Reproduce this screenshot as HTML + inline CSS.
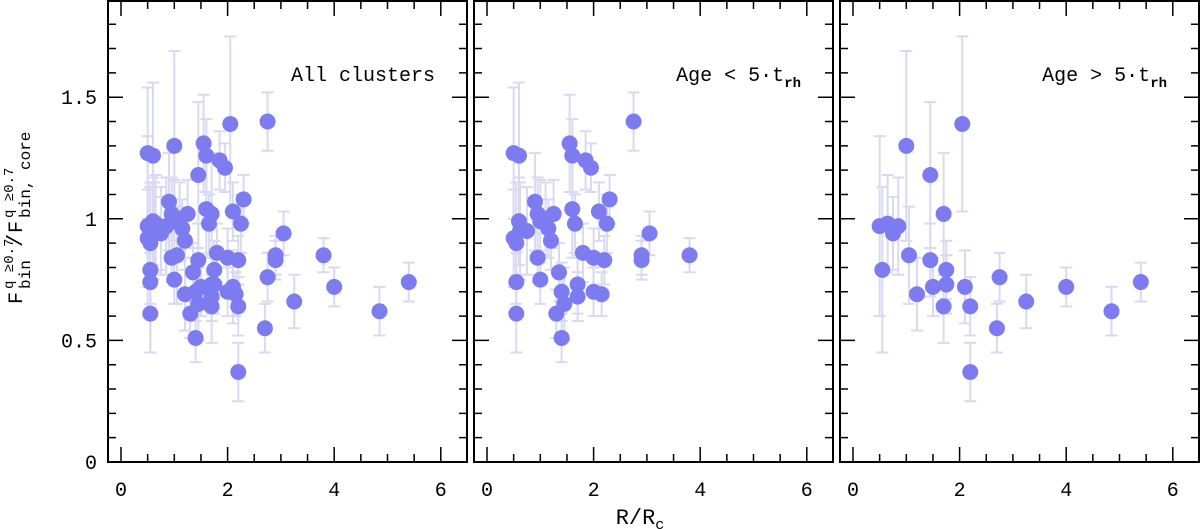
<!DOCTYPE html>
<html><head><meta charset="utf-8"><style>
body{margin:0;background:#fff}
svg{display:block;font-family:"Liberation Mono",monospace}
</style></head><body>
<svg id="c" width="1200" height="529"></svg>
<script>
// Young clusters (Age < 5 t_rh)
const youngX=[0.5,0.6,0.5,0.55,0.6,0.62,0.55,0.55,0.75,0.9,0.95,1.0,1.0,1.1,1.15,1.2,1.25,0.95,1.3,1.35,1.4,1.4,1.45,1.55,1.6,1.6,1.65,1.7,1.7,1.8,1.85,1.95,2.0,2.0,2.1,2.15,2.2,2.25,2.3,2.75,2.9,2.9,3.05,3.8];
const youngY=[1.27,1.26,0.92,0.9,0.99,0.95,0.74,0.61,0.95,1.07,1.02,0.99,0.75,1.0,0.96,0.91,1.02,0.84,0.61,0.78,0.51,0.7,0.65,1.31,1.26,1.04,0.98,0.73,0.68,0.86,1.24,1.21,0.84,0.7,1.03,0.69,0.83,0.98,1.08,1.4,0.85,0.83,0.94,0.85];
const youngE=[0.27,0.3,0.2,0.25,0.18,0.2,0.12,0.16,0.18,0.2,0.15,0.17,0.1,0.15,0.12,0.12,0.14,0.1,0.1,0.12,0.1,0.12,0.15,0.2,0.15,0.2,0.12,0.12,0.1,0.12,0.12,0.1,0.12,0.1,0.12,0.09,0.1,0.12,0.1,0.12,0.08,0.08,0.09,0.07];
// Old clusters (Age > 5 t_rh)
const oldX=[0.5,0.55,0.65,0.75,0.85,1.0,1.05,1.2,1.45,1.45,1.5,1.7,1.7,1.75,1.75,2.05,2.1,2.2,2.2,2.7,2.75,3.25,4.0,4.85,5.4];
const oldY=[0.97,0.79,0.98,0.94,0.97,1.3,0.85,0.69,1.18,0.83,0.72,0.64,1.02,0.79,0.73,1.39,0.72,0.64,0.37,0.55,0.76,0.66,0.72,0.62,0.74];
const oldE=[0.37,0.34,0.2,0.15,0.2,0.39,0.2,0.15,0.3,0.15,0.12,0.15,0.25,0.12,0.12,0.36,0.15,0.12,0.12,0.1,0.1,0.11,0.08,0.1,0.08];
const xTicks=[0,2,4,6];
const yTicks=[0,0.5,1,1.5];
const yTickLabels=["0","0.5","1","1.5"];

const NS="http://www.w3.org/2000/svg";
const svg=document.getElementById('c');
function mk(t,a,p){const e=document.createElementNS(NS,t);for(const k in a)e.setAttribute(k,a[k]);(p||svg).appendChild(e);return e;}
const frameTop=1,bot=462,ppu=243.2;
const ys=v=>bot-v*ppu;
const panels=[{l:108,r:467,sets:[[youngX,youngY,youngE],[oldX,oldY,oldE]]},
{l:474,r:833,sets:[[youngX,youngY,youngE]]},
{l:840,r:1199,sets:[[oldX,oldY,oldE]]}];
panels.forEach((P,pi)=>{
  const g=mk('g',{});
  
  
  const xs=v=>P.l+13+v*53.3;
  P.sets.forEach(s=>{s[0].forEach((x,i)=>{
    const cx=xs(x),y1=ys(s[1][i]-s[2][i]),y2=ys(s[1][i]+s[2][i]);
    const eb=mk('path',{d:`M${cx},${y1}V${y2}M${cx-6},${y1}H${cx+6}M${cx-6},${y2}H${cx+6}`,stroke:'#d9d9f1','stroke-width':2,fill:'none'},g);
    
    
  });});
  P.sets.forEach(s=>{s[0].forEach((x,i)=>{
    const c=mk('circle',{cx:xs(x),cy:ys(s[1][i]),r:8,fill:'#7c7cf0'},g);
    
    
  });});
  const fr=mk('rect',{x:P.l,y:frameTop,width:P.r-P.l,height:bot-frameTop,fill:'none',stroke:'#000','stroke-width':2},g);
  
  
  let d='';
  for(let v=0;v<=6.01;v+=0.5){const X=xs(v),L=(Math.abs(v-Math.round(v/2)*2)<0.01)?15:8;d+=`M${X},${bot}V${bot-L}M${X},${frameTop}V${frameTop+L}`;}
  for(let k=0;k<=19;k++){const v=k/10,Y=ys(v),L=(k%5==0)?15:8;d+=`M${P.l},${Y}H${P.l+L}M${P.r},${Y}H${P.r-L}`;}
  const tk=mk('path',{d:d,stroke:'#000','stroke-width':1.5,fill:'none'},g);
  
  
  xTicks.forEach(v=>{const t=mk('text',{x:xs(v),y:496,'text-anchor':'middle','font-size':20},g);t.textContent=v;
    });
  if(pi==0)yTicks.forEach((v,i)=>{const t=mk('text',{x:97,y:ys(v)+7,'text-anchor':'end','font-size':20},g);t.textContent=yTickLabels[i];
    });
  const lt=mk('text',{x:P.r-32,y:81,'text-anchor':'end','font-size':20},g);
  if(pi==0)lt.textContent="All clusters";
  else{lt.innerHTML=`Age ${pi==1?'&lt;':'&gt;'} 5·t<tspan font-size="14" font-weight="bold" dy="6">rh</tspan>`;}
  
});
const xl=mk('text',{x:640,y:524,'text-anchor':'middle','font-size':22});
xl.innerHTML='R/R<tspan font-size="15" dy="5">c</tspan>';

const yl=mk('g',{transform:'translate(22,207) rotate(-90)'});

[['F',-97,0,20],['q ≥0.7',-82,-9,14],['bin',-82,8,16],['/',-40,0,22],['F',-26,0,20],['q ≥0.7',-11,-9,14],['bin, core',-11,8,16]].forEach(a=>{
  const t=mk('text',{x:a[1],y:a[2],'font-size':a[3]},yl);t.textContent=a[0];
});
</script>
</body></html>
